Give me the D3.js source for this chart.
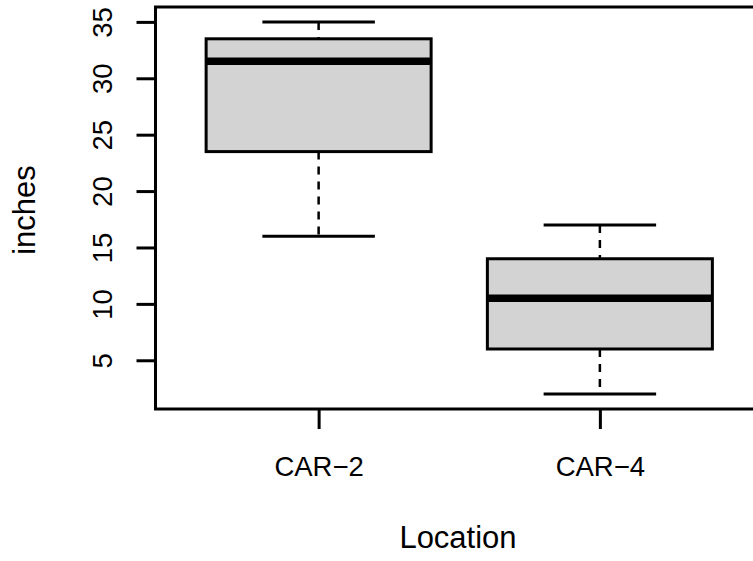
<!DOCTYPE html>
<html>
<head>
<meta charset="utf-8">
<script src="https://cdn.jsdelivr.net/npm/d3@7"></script>
<style>
  body { margin: 0; background: #fff; }
  text { font-family: "Liberation Sans", Arial, sans-serif; fill: #000; }
</style>
</head>
<body>
<div id="boxChart"></div>
<script>
// box stats
var locations = ["CAR-2", "CAR-4"];
var whiskerLow = [16, 2];
var q1 = [23.5, 6];
var medians = [31.5, 10.5];
var q3 = [33.5, 14];
var whiskerHigh = [35, 17];
var yTicks = [5, 10, 15, 20, 25, 30, 35];

var width = 753;
var height = 561;
var htmlID = "boxChart";

var svg = d3.select("#" + htmlID)
            .append("svg")
            .attr("width", width)
            .attr("height", height);

// R style: 4% padding on both axes
var lo = d3.min(whiskerLow), hi = d3.max(whiskerHigh);
var pad = (hi - lo) * 0.04;
var y = d3.scaleLinear()
          .domain([lo - pad, hi + pad])
          .range([409, 7]);

var x = d3.scaleLinear()
          .domain([0.42, locations.length + 0.58])
          .range([155.5, 763]);

var boxHalf = (x(1.4) - x(1)); // box width 0.8
var capHalf = boxHalf / 2;

var data = locations.map(function(d, i){
  return {name: d, pos: i + 1, lo: whiskerLow[i], q1: q1[i], med: medians[i], q3: q3[i], hi: whiskerHigh[i]};
});

var g = svg.selectAll("boxes")
           .data(data)
           .enter()
           .append("g");

// dashed whiskers
g.append("line")
 .attr("x1", function(d){ return x(d.pos) })
 .attr("x2", function(d){ return x(d.pos) })
 .attr("y1", function(d){ return y(d.hi) })
 .attr("y2", function(d){ return y(d.q3) })
 .attr("stroke", "#000")
 .attr("stroke-width", 2.5)
 .attr("stroke-dasharray", "8,7");

g.append("line")
 .attr("x1", function(d){ return x(d.pos) })
 .attr("x2", function(d){ return x(d.pos) })
 .attr("y1", function(d){ return y(d.q1) })
 .attr("y2", function(d){ return y(d.lo) })
 .attr("stroke", "#000")
 .attr("stroke-width", 2.5)
 .attr("stroke-dasharray", "8,7");

// whisker caps
["hi", "lo"].forEach(function(k){
  g.append("line")
   .attr("x1", function(d){ return x(d.pos) - capHalf })
   .attr("x2", function(d){ return x(d.pos) + capHalf })
   .attr("y1", function(d){ return y(d[k]) })
   .attr("y2", function(d){ return y(d[k]) })
   .attr("stroke", "#000")
   .attr("stroke-width", 3);
});

// the box
g.append("rect")
 .attr("x", function(d){ return x(d.pos) - boxHalf })
 .attr("width", boxHalf * 2)
 .attr("y", function(d){ return y(d.q3) })
 .attr("height", function(d){ return y(d.q1) - y(d.q3) })
 .attr("fill", "#d3d3d3")
 .attr("stroke", "#000")
 .attr("stroke-width", 3);

// median
g.append("line")
 .attr("x1", function(d){ return x(d.pos) - boxHalf })
 .attr("x2", function(d){ return x(d.pos) + boxHalf })
 .attr("y1", function(d){ return y(d.med) })
 .attr("y2", function(d){ return y(d.med) })
 .attr("stroke", "#000")
 .attr("stroke-width", 7.5);

// frame
svg.append("rect")
   .attr("x", x.range()[0])
   .attr("y", y.range()[1])
   .attr("width", x.range()[1] - x.range()[0])
   .attr("height", y.range()[0] - y.range()[1])
   .attr("fill", "none")
   .attr("stroke", "#000")
   .attr("stroke-width", 3);

// y axis
var yAxis = svg.append("g")
   .attr("transform", "translate(" + x.range()[0] + ",0)")
   .call(d3.axisLeft(y).tickValues(yTicks).tickSize(19).tickSizeOuter(0).tickPadding(0));
yAxis.select(".domain").remove();
yAxis.selectAll(".tick line").attr("stroke", "#000").attr("stroke-width", 3);
yAxis.selectAll(".tick text")
     .attr("x", 0).attr("dy", null)
     .attr("transform", "translate(-44,0) rotate(-90)")
     .attr("text-anchor", "middle")
     .attr("font-size", "27.5px")
     .attr("font-family", "Liberation Sans, Arial, sans-serif");

// x axis
var xAxis = svg.append("g")
   .attr("transform", "translate(0," + y.range()[0] + ")")
   .call(d3.axisBottom(x).tickValues(data.map(function(d){ return d.pos }))
           .tickFormat(function(d){ return locations[d - 1].replace("-", "\u2212") })
           .tickSize(20).tickSizeOuter(0).tickPadding(0));
xAxis.select(".domain").remove();
xAxis.selectAll(".tick line").attr("stroke", "#000").attr("stroke-width", 3);
xAxis.selectAll(".tick text")
     .attr("y", 67).attr("dy", null)
     .attr("font-size", "27.5px")
     .attr("font-family", "Liberation Sans, Arial, sans-serif");

// axis titles
svg.append("text")
   .attr("text-anchor", "middle")
   .attr("font-size", "31px")
   .attr("transform", "translate(35,210) rotate(-90)")
   .text("inches");

svg.append("text")
   .attr("text-anchor", "middle")
   .attr("font-size", "31px")
   .attr("x", 458)
   .attr("y", 548)
   .text("Location");
</script>
</body>
</html>
